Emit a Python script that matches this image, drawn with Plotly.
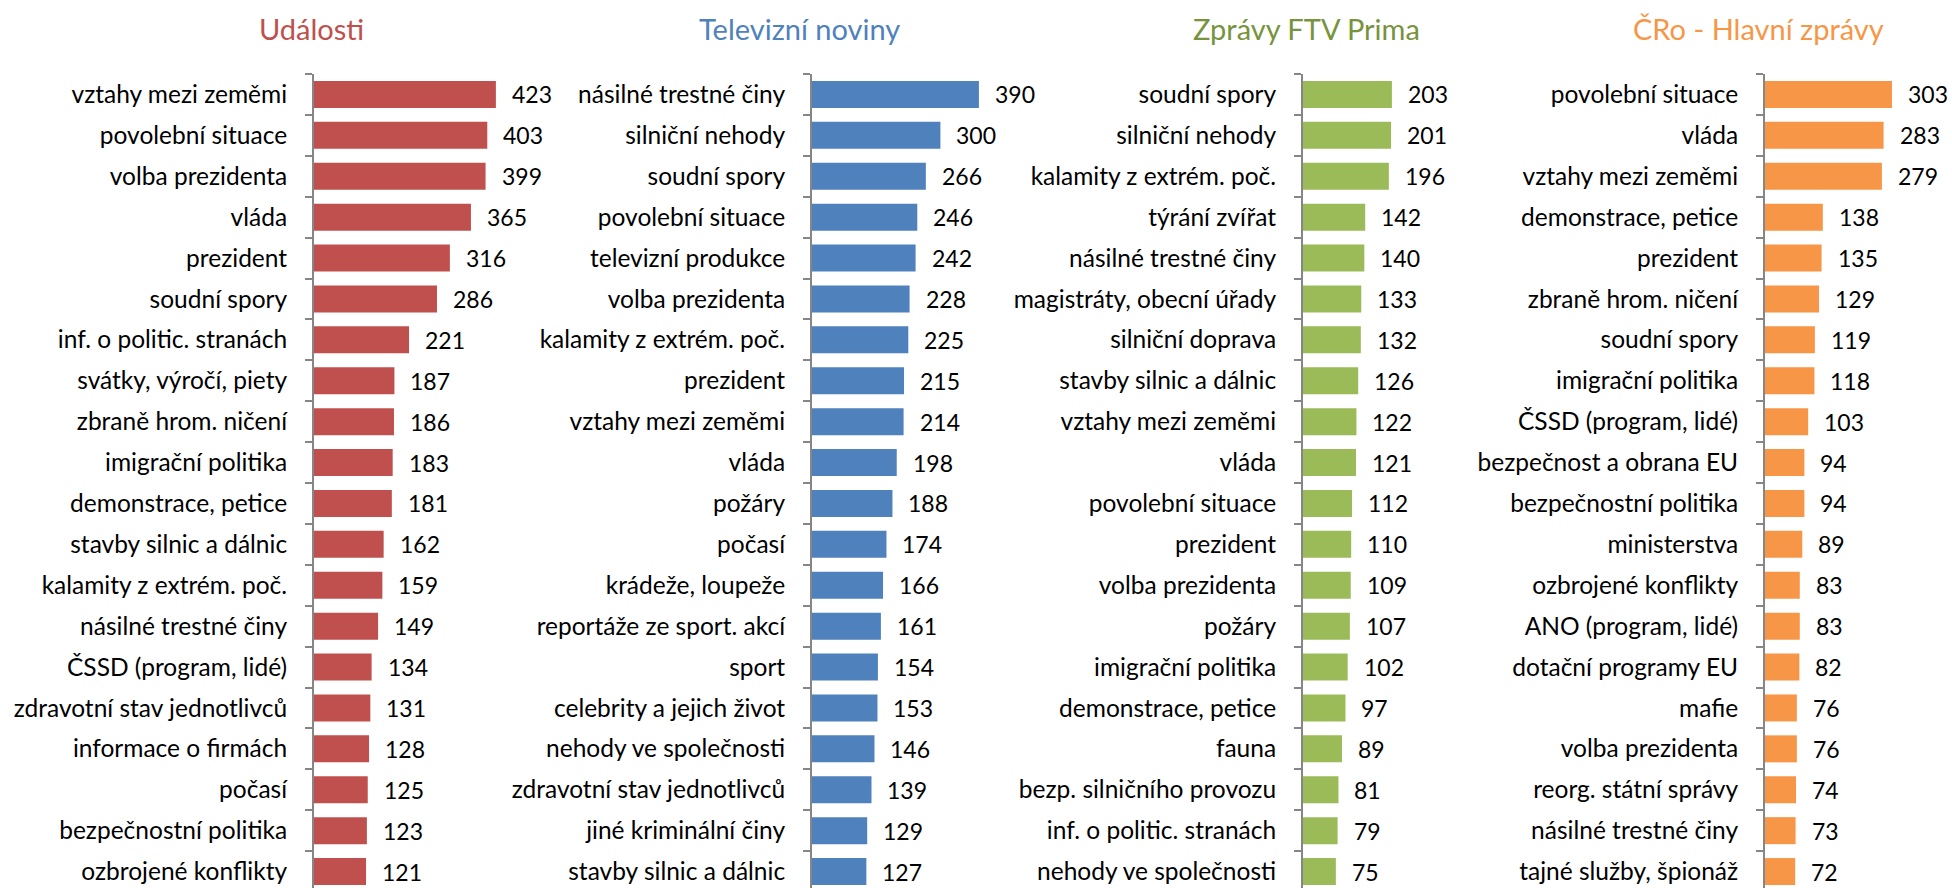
import plotly.graph_objects as go

# ---- data ----
udalosti_cats = ["vztahy mezi zeměmi", "povolební situace", "volba prezidenta", "vláda", "prezident",
                 "soudní spory", "inf. o politic. stranách", "svátky, výročí, piety", "zbraně hrom. ničení",
                 "imigrační politika", "demonstrace, petice", "stavby silnic a dálnic", "kalamity z extrém. poč.",
                 "násilné trestné činy", "ČSSD (program, lidé)", "zdravotní stav jednotlivců",
                 "informace o firmách", "počasí", "bezpečnostní politika", "ozbrojené konflikty"]
udalosti_vals = [423, 403, 399, 365, 316, 286, 221, 187, 186, 183, 181, 162, 159, 149, 134, 131, 128, 125, 123, 121]

tn_cats = ["násilné trestné činy", "silniční nehody", "soudní spory", "povolební situace", "televizní produkce",
           "volba prezidenta", "kalamity z extrém. poč.", "prezident", "vztahy mezi zeměmi", "vláda", "požáry",
           "počasí", "krádeže, loupeže", "reportáže ze sport. akcí", "sport", "celebrity a jejich život",
           "nehody ve společnosti", "zdravotní stav jednotlivců", "jiné kriminální činy", "stavby silnic a dálnic"]
tn_vals = [390, 300, 266, 246, 242, 228, 225, 215, 214, 198, 188, 174, 166, 161, 154, 153, 146, 139, 129, 127]

prima_cats = ["soudní spory", "silniční nehody", "kalamity z extrém. poč.", "týrání zvířat", "násilné trestné činy",
              "magistráty, obecní úřady", "silniční doprava", "stavby silnic a dálnic", "vztahy mezi zeměmi", "vláda",
              "povolební situace", "prezident", "volba prezidenta", "požáry", "imigrační politika",
              "demonstrace, petice", "fauna", "bezp. silničního provozu", "inf. o politic. stranách",
              "nehody ve společnosti"]
prima_vals = [203, 201, 196, 142, 140, 133, 132, 126, 122, 121, 112, 110, 109, 107, 102, 97, 89, 81, 79, 75]

cro_cats = ["povolební situace", "vláda", "vztahy mezi zeměmi", "demonstrace, petice", "prezident",
            "zbraně hrom. ničení", "soudní spory", "imigrační politika", "ČSSD (program, lidé)",
            "bezpečnost a obrana EU", "bezpečnostní politika", "ministerstva", "ozbrojené konflikty",
            "ANO (program, lidé)", "dotační programy EU", "mafie", "volba prezidenta", "reorg. státní správy",
            "násilné trestné činy", "tajné služby, špionáž"]
cro_vals = [303, 283, 279, 138, 135, 129, 119, 118, 103, 94, 94, 89, 83, 83, 82, 76, 76, 74, 73, 72]

titles = ["Události", "Televizní noviny", "Zprávy FTV Prima", "ČRo - Hlavní zprávy"]

# ---- styling ----
W, H = 1952, 888
TOP = 74
FONT = "Lato"
bar_colors = ["#C0504D", "#4F81BD", "#9BBB59", "#F79646"]
title_colors = ["#C0504D", "#4F81BD", "#77933C", "#F79646"]
axis_px = [314, 812, 1303, 1765]       # axis line x position (px)
scales = [0.430, 0.428, 0.438, 0.419]  # px per unit
widths = [190, 190, 190, 170]
title_px = [311, 799, 1306, 1758]
title_y = 28

panels = [(udalosti_cats, udalosti_vals), (tn_cats, tn_vals), (prima_cats, prima_vals), (cro_cats, cro_vals)]

fig = go.Figure()
annotations = []
plot_h = H - TOP
unit = 40.9
bottom = -0.5 + plot_h / unit

for i, (cats, vals) in enumerate(panels):
    xa = "x" if i == 0 else f"x{i+1}"
    ya = "y" if i == 0 else f"y{i+1}"
    fig.add_trace(go.Bar(
        x=vals, y=cats, orientation="h", xaxis=xa, yaxis=ya,
        marker=dict(color=bar_colors[i], line=dict(width=0)),
        showlegend=False, hoverinfo="x+y",
    ))
    x0 = axis_px[i] / W
    x1 = (axis_px[i] + widths[i]) / W
    xkey = "xaxis" if i == 0 else f"xaxis{i+1}"
    ykey = "yaxis" if i == 0 else f"yaxis{i+1}"
    fig.update_layout({
        xkey: dict(domain=[x0, x1], range=[0, widths[i] / scales[i]], visible=False,
                   anchor=ya, fixedrange=True),
        ykey: dict(domain=[0, 1], anchor=xa, type="category", range=[bottom, -0.5],
                   showline=True, linecolor="#868686", linewidth=2,
                   ticks="outside", tickson="boundaries", ticklen=7, tickcolor="#868686", tickwidth=2,
                   ticklabelstandoff=20, automargin=False,
                   tickfont=dict(family=FONT, size=24.5, color="#000000"),
                   showgrid=False, zeroline=False, fixedrange=True),
    })
    for c, v in zip(cats, vals):
        annotations.append(dict(x=v, y=c, xref=xa, yref=ya, text=str(v), showarrow=False,
                                xanchor="left", yanchor="middle", xshift=14,
                                font=dict(family=FONT, size=23, color="#000000")))
    annotations.append(dict(x=title_px[i] / W, y=1 + (TOP - title_y) / plot_h, xref="paper", yref="paper",
                            text=titles[i], showarrow=False, xanchor="center", yanchor="middle",
                            borderpad=0,
                            font=dict(family=FONT, size=29, color=title_colors[i])))

fig.update_layout(
    width=W, height=H,
    margin=dict(l=0, r=0, t=TOP, b=0, pad=0),
    paper_bgcolor="white", plot_bgcolor="white",
    bargap=0.34,
    annotations=annotations,
)

page_fix = ("document.documentElement.style.overflow='hidden';"
            "document.body.style.margin='0';document.body.style.overflow='hidden';")
fig.write_html("out.html", post_script=page_fix, config={"displayModeBar": False})
